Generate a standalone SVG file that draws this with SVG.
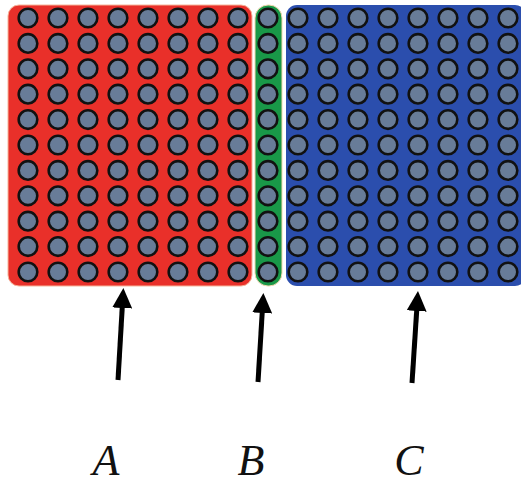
<svg xmlns="http://www.w3.org/2000/svg" xmlns:xlink="http://www.w3.org/1999/xlink" width="521" height="489" viewBox="0 0 521 489">
<style>
.dot{fill:#687c98;stroke:#111;stroke-width:2.6}
.lbl{font-family:"Liberation Serif","Times New Roman",serif;font-style:italic;font-size:44px;fill:#111;text-anchor:middle}
.arr{stroke:#000;stroke-width:5;fill:none;marker-end:url(#ah)}
</style>
<defs>
<marker id="ah" markerWidth="4" markerHeight="4" refX="1" refY="2" orient="auto" markerUnits="strokeWidth" viewBox="0 0 4 4">
<path d="M0,0 L4,2 L0,4 Z" fill="#000"/>
</marker>
<circle id="d" r="9.3" class="dot"/>
<g id="col">
<use xlink:href="#d" y="18"/><use xlink:href="#d" y="43.4"/><use xlink:href="#d" y="68.8"/><use xlink:href="#d" y="94.2"/><use xlink:href="#d" y="119.6"/><use xlink:href="#d" y="145"/><use xlink:href="#d" y="170.4"/><use xlink:href="#d" y="195.8"/><use xlink:href="#d" y="221.2"/><use xlink:href="#d" y="246.6"/><use xlink:href="#d" y="272"/>
</g>
</defs>
<rect width="521" height="489" fill="#fff"/>
<g id="A">
<rect x="8" y="5" width="244" height="281" rx="11" fill="#e9302a" stroke="#f6b49a" stroke-width="1"/>
<use xlink:href="#col" x="28"/><use xlink:href="#col" x="58"/><use xlink:href="#col" x="88"/><use xlink:href="#col" x="118"/><use xlink:href="#col" x="148"/><use xlink:href="#col" x="178"/><use xlink:href="#col" x="208"/><use xlink:href="#col" x="238"/>
</g>
<g id="B">
<rect x="255" y="5" width="27" height="281" rx="13" fill="#199848" stroke="#f3d8b0" stroke-width="1"/>
<use xlink:href="#col" x="268"/>
</g>
<g id="C">
<rect x="286" y="5" width="240" height="281" rx="11" fill="#2b4ead"/>
<use xlink:href="#col" x="298"/><use xlink:href="#col" x="328"/><use xlink:href="#col" x="358"/><use xlink:href="#col" x="388"/><use xlink:href="#col" x="418"/><use xlink:href="#col" x="448"/><use xlink:href="#col" x="478"/><use xlink:href="#col" x="508"/>
</g>
<g id="connectors">
<line class="arr" x1="118" y1="380" x2="122.5" y2="303"/>
<line class="arr" x1="258" y1="382" x2="262.5" y2="308"/>
<line class="arr" x1="412" y1="383" x2="417" y2="306"/>
</g>
<g id="labels">
<text class="lbl" x="106" y="475">A</text>
<text class="lbl" x="251" y="475">B</text>
<text class="lbl" x="409" y="475">C</text>
</g>
</svg>
